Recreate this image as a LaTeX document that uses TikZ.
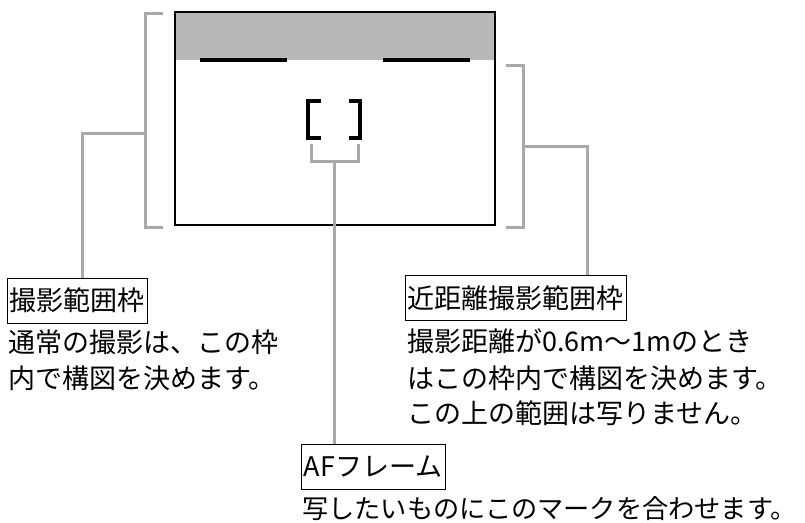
\documentclass[tikz,border=0pt]{standalone}
\usepackage{fontspec}
\setmainfont{Noto Sans CJK JP}
\definecolor{lead}{HTML}{A9A9A9}
\definecolor{band}{HTML}{B8B8B8}
\tikzset{
  lead/.style={draw=lead, line width=3pt},
  blackmark/.style={line width=4pt, line cap=butt},
  labelbox/.style={draw=black, line width=0.9pt, anchor=west, inner xsep=2.5pt, inner ysep=0pt, minimum height=45pt, font=\fontsize{27}{30}\selectfont},
  desc/.style={anchor=base west, inner sep=0pt, font=\fontsize{27}{30}\selectfont}
}
\begin{document}
\begin{tikzpicture}[x=1pt,y=-1pt]
\useasboundingbox (0,0) rectangle (805,522);
% frame
\fill[band] (175,12) rectangle (495,60);
\draw[line width=2pt] (175,12) rectangle (495,225);
\draw[blackmark] (200,60) -- (287,60);
\draw[blackmark] (383,60) -- (470,60);
% AF brackets
\draw[blackmark, line join=miter] (321,101) -- (308,101) -- (308,138) -- (321,138);
\draw[blackmark, line join=miter] (349,101) -- (360,101) -- (360,138) -- (349,138);
% grey brackets
\draw[lead] (163,13) -- (145,13) -- (145,227) -- (163,227);
\coordinate (lmid) at (145,133);
\draw[lead] (506,65) -- (523,65) -- (523,227) -- (506,227);
\coordinate (rmid) at (523,146);
\draw[lead] (311,144) -- (311,161) -- (358,161) -- (358,144);
\coordinate (afc) at (334,161);
% label boxes
\node[labelbox] (lbox) at (7,300.5) {撮影範囲枠};
\node[labelbox] (rbox) at (405,298) {近距離撮影範囲枠};
\node[labelbox] (afbox) at (301,467) {AFフレーム};
% connectors
\coordinate (lc) at (82,133);
\draw[lead] (lmid) -- (lc) -- (lc |- lbox.north);
\coordinate (rc) at (587,146);
\draw[lead] (rmid) -- (rc) -- (rc |- rbox.north);
\draw[lead] (afc) -- (afc |- afbox.north);
% descriptions
\node[desc] (l1) at (8,352) {通常の撮影は、この枠};
\node[desc] (l2) at (8,388) {内で構図を決めます。};
\node[desc] (r1) at (407,351) {撮影距離が0.6m～1mのとき};
\node[desc] (r2) at (407,388) {はこの枠内で構図を決めます。};
\node[desc] (r3) at (407,423) {この上の範囲は写りません。};
\node[desc, font=\fontsize{26.2}{30}\selectfont] (a1) at (302,518) {写したいものにこのマークを合わせます。};
\end{tikzpicture}
\end{document}
